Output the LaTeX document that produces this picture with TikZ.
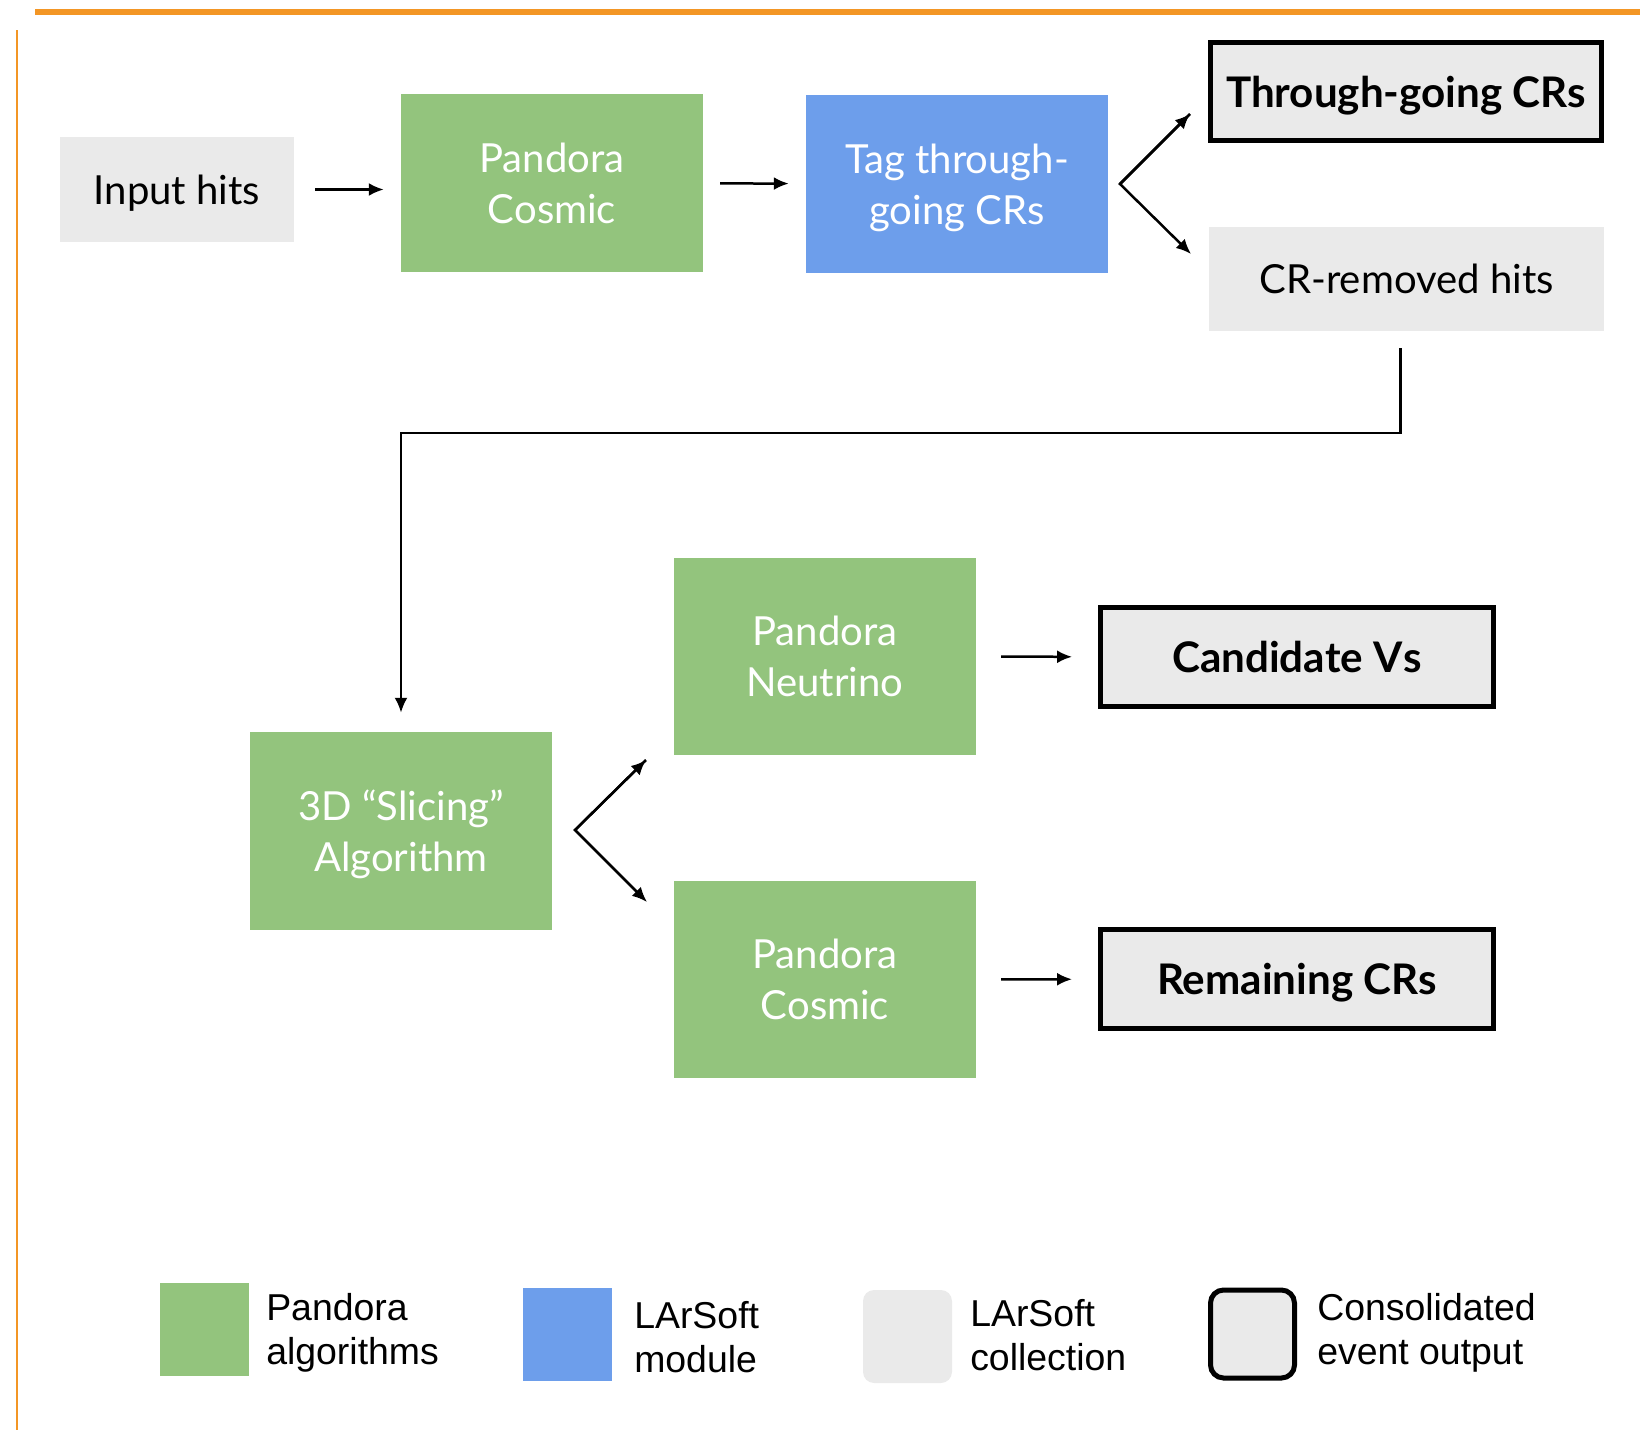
\documentclass[tikz,border=0pt]{standalone}
\usepackage{fontspec}
\setmainfont{Lato}
\newfontfamily\legendfont{Liberation Sans}
\usetikzlibrary{positioning, arrows.meta}

\definecolor{pandoragreen}{HTML}{93C47D}
\definecolor{larblue}{HTML}{6D9EEB}
\definecolor{hitgrey}{HTML}{EAEAEA}
\definecolor{frameorange}{HTML}{F39625}

\begin{document}
\begin{tikzpicture}[x=0.02cm, y=-0.02cm, line width=0.05cm, >={Latex[length=0.3cm, width=0.26cm]}]
                \tikzset{
                    algo/.style={fill=pandoragreen, text=white, inner sep=0pt, align=center, text depth=0pt,
                        minimum width=6.04cm, minimum height=3.94cm, font=\fontsize{22.8}{29}\selectfont},
                    module/.style={algo, fill=larblue, minimum height=3.56cm},
                    collection/.style={fill=hitgrey, inner sep=0pt, align=center, text depth=0pt,
                        minimum width=7.9cm, minimum height=2.08cm, font=\fontsize{22.8}{29}\selectfont},
                    evout/.style={draw=black, line width=0.1cm, fill=hitgrey, inner sep=0pt, text depth=0pt,
                        minimum width=7.86cm, minimum height=1.98cm, font=\bfseries\fontsize{24}{29}\selectfont},
                    legbox/.style={inner sep=0pt, minimum width=1.78cm, minimum height=1.86cm},
                    legtext/.style={anchor=west, align=left, inner sep=0pt, font=\legendfont\fontsize{21.3}{25}\selectfont}
                }
                \useasboundingbox (0,0) rectangle (1640,1430);

                % FRAME
                \draw[frameorange, line width=0.11cm] (35,12) -- (1640,12);
                \draw[frameorange, line width=0.06cm] (17,30) -- (17,1430);

                % FIRST PASS
                \node[collection, minimum width=4.68cm, minimum height=2.1cm] (inhits) at (177,189.5) {Input hits};
                \node[algo, minimum height=3.56cm] (cosmicA) at (552,183) {Pandora\\Cosmic};
                \node[module] (tagcr) at (957,184) {Tag through-\\going CRs};
                \node[evout, minimum width=7.82cm, minimum height=1.96cm] (thrucr) at (1406,91.5) {Through-going CRs};
                \node[collection] (crhits) at (1406.5,279) {CR-removed hits};

                % SECOND PASS
                \node[algo, minimum height=3.96cm] (slicing) at (401,831) {3D ``Slicing''\\Algorithm};
                \node[algo] (neutrino) at (825,656.5) {Pandora\\Neutrino};
                \node[algo] (cosmicB) at (825,979.5) {Pandora\\Cosmic};
                \node[evout] (candnu) at (1297,657) {Candidate V\kern0.5pt s};
                \node[evout] (remcr) at (1297,979) {Remaining CRs};

                % FORKS
                \coordinate (forkA) at (1120,184);
                \coordinate (forkAup) at (1190,114);
                \coordinate (forkAdown) at (1191,254);
                \coordinate (forkB) at (575,830);
                \coordinate (forkBup) at (646,760);
                \coordinate (forkBdown) at (647,902);

                % TRANSITIONS
                \path[->, shorten <=0.4cm, shorten >=0.32cm]
                    (inhits.east) edge (inhits.east -| cosmicA.west);
                \path[->, shorten <=0.32cm, shorten >=0.32cm]
                    (cosmicA) edge (tagcr)
                    (neutrino) edge[shorten <=0.48cm, shorten >=0.52cm] (candnu)
                    (cosmicB) edge[shorten <=0.48cm, shorten >=0.52cm] (remcr);
                \draw[->] (forkAup) -- (forkA) -- (forkAdown);
                \draw[<-] (forkAup) -- (forkA);
                \draw[->] (forkBup) -- (forkB) -- (forkBdown);
                \draw[<-] (forkBup) -- (forkB);
                \draw[->, shorten <=0.32cm, shorten >=0.36cm] (crhits.south) ++(-6,0) coordinate (drop) -- ++(0,101) -| (slicing.north);

                % LEGEND
                \node[legbox, fill=pandoragreen] (legalgo) at (204.5,1329.5) {};
                \node[legtext] (legalgotext) at (265,1333) {Pandora\\algorithms};
                \node[legbox, fill=larblue] (legmod) at (567.5,1334.5) {};
                \node[legtext] (legmodtext) at (633,1337) {LArSoft\\module};
                \node[legbox, fill=hitgrey, rounded corners=0.22cm] (legcol) at (907.5,1336.5) {};
                \node[legtext] (legcoltext) at (969,1335) {LArSoft\\collection};
                \node[legbox, draw=black, line width=0.1cm, fill=hitgrey, rounded corners=0.26cm,
                    minimum width=1.68cm, minimum height=1.76cm] (legout) at (1252.5,1334) {};
                \node[legtext] (legouttext) at (1316,1333) {Consolidated\\event output};

            \end{tikzpicture}
\end{document}
